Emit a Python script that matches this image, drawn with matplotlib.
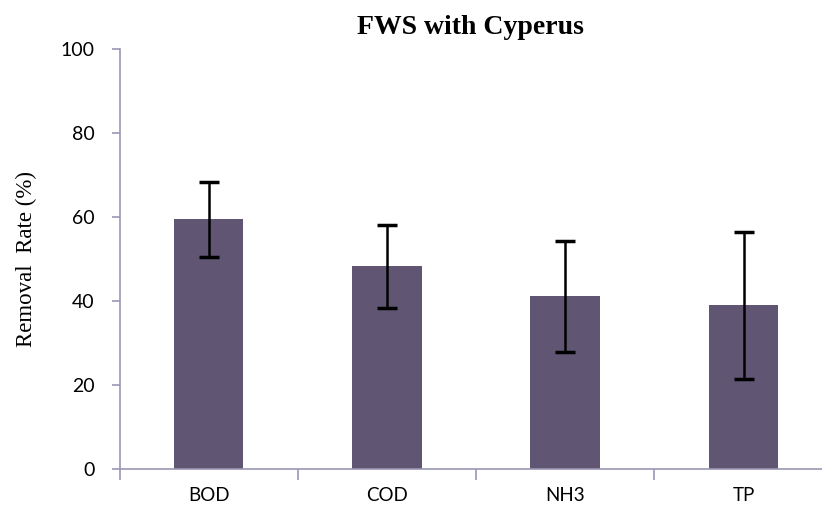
import numpy as np
import matplotlib
matplotlib.use('Agg')
import matplotlib.pyplot as plt

categories = ['BOD', 'COD', 'NH3', 'TP']
removal = [59.5, 48.3, 41.1, 39.0]
err = [8.9, 9.9, 13.2, 17.5]
yticks = [0, 20, 40, 60, 80, 100]

bar_color = '#605573'
axis_color = '#9a96b4'

fig = plt.figure(figsize=(8.22, 5.22), dpi=100)
ax = fig.add_axes([0.1454, 0.1015, 0.8546, 0.8045])

x = np.arange(len(categories))
ax.bar(x, removal, width=0.39, color=bar_color, zorder=2)
ax.errorbar(x, removal, yerr=err, fmt='none', ecolor='black',
            elinewidth=1.8, capsize=7, capthick=2.5, zorder=3)

ax.set_xlim(-0.5, 3.44)
ax.set_ylim(0, 100)

for s in ['top', 'right']:
    ax.spines[s].set_visible(False)
for s in ['left', 'bottom']:
    ax.spines[s].set_color(axis_color)
    ax.spines[s].set_linewidth(1.2)

# boundary ticks on x, labels at centres
ax.set_xticks(x - 0.5)
ax.set_xticklabels([])
ax.set_xticks(x, minor=True)
ax.set_xticklabels(categories, minor=True, fontfamily='Lato', fontsize=13.5)
ax.tick_params(axis='x', which='major', length=8, direction='out', color=axis_color, width=1.2)
ax.tick_params(axis='x', which='minor', length=0, pad=13)

ax.set_yticks(yticks)
ax.set_yticklabels([str(v) for v in yticks], fontfamily='Lato', fontsize=14)
ax.tick_params(axis='y', length=6, direction='out', color=axis_color, width=1.2, pad=12)

ax.set_ylabel('Removal  Rate (%)', fontfamily='Liberation Serif', fontsize=16.5, labelpad=17)
ax.set_title('FWS with Cyperus', fontfamily='Liberation Serif', fontweight='bold',
             fontsize=20, pad=11)

fig.savefig('out.png', dpi=100)
